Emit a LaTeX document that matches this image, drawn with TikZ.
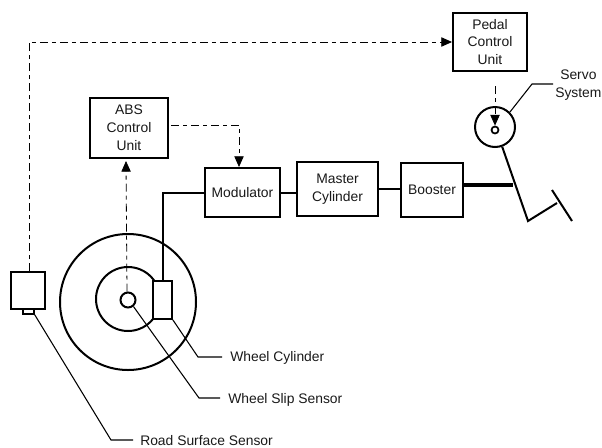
\documentclass[tikz,border=0pt]{standalone}
\usepackage{fontspec}
\setmainfont{Liberation Sans}
\usetikzlibrary{arrows.meta,calc}
\tikzset{
  x=0.75pt,y=-0.75pt,
  unitbox/.style={draw=black,line width=1.5pt,fill=white,inner sep=0pt,align=center,font=\fontsize{10.4}{13.4}\selectfont,text=black!90},
  ring/.style={draw=black,circle,line width=1.5pt,inner sep=0pt},
  pipe/.style={draw=black,line width=1.5pt},
  rod/.style={draw=black,line width=2.8pt},
  leader/.style={draw=black,line width=0.8pt},
  signal/.style={draw=black,line width=0.6pt,dash pattern=on 6pt off 3pt on 3pt off 3pt},
  sighead/.style={-{Triangle[length=8pt,width=7pt]}},
  lbl/.style={inner sep=0pt,anchor=west,align=center,font=\fontsize{10.4}{13.4}\selectfont,text=black!90},
}
\begin{document}
\begin{tikzpicture}
\useasboundingbox (0,0) rectangle (602,447);
% wheel
\node[ring,minimum size=136*0.75pt] (outer) at (128,302) {};
\node[ring,minimum size=64*0.75pt] (inner) at (128,299) {};
\node[ring,minimum size=15*0.75pt] (hub) at (128,300) {};
\node[unitbox,line width=1.2pt,minimum width=19*0.75pt,minimum height=38*0.75pt] (cyl) at (162.5,300) {};
% boxes
\node[unitbox,minimum width=78*0.75pt,minimum height=60*0.75pt] (abs) at (129,128) {ABS\\Control\\Unit};
\node[unitbox,minimum width=75*0.75pt,minimum height=49*0.75pt] (mod) at (242.5,192.5) {Modulator};
\node[unitbox,minimum width=81*0.75pt,minimum height=54*0.75pt] (mas) at (337.5,189) {Master\\Cylinder};
\node[unitbox,minimum width=62*0.75pt,minimum height=54*0.75pt] (boo) at (432,190) {Booster};
\node[unitbox,minimum width=74*0.75pt,minimum height=58*0.75pt] (ped) at (490,42) {Pedal\\Control\\Unit};
\node[ring,minimum size=40*0.75pt] (servo) at (495,127) {};
\node[ring,line width=1.3pt,minimum size=7*0.75pt] (pivot) at (495,130) {};
\node[unitbox,line width=1.3pt,minimum width=34*0.75pt,minimum height=37*0.75pt] (road) at (28,290.5) {};
\node[unitbox,line width=1pt,minimum width=11*0.75pt,minimum height=5*0.75pt] (tip) at (28.5,311.5) {};
% pipes
\draw[pipe] (cyl.north) |- (mod.west);
\draw[pipe] (mod.east) -- (mod.east -| mas.west);
\draw[pipe] (mas.east) -- (mas.east -| boo.west);
% pedal
\coordinate (heel) at (528,221);
\coordinate (toe) at (557,203);
\coordinate (footA) at (552,190);
\coordinate (footB) at (572,221);
\coordinate (rodend) at (512.5,185);
\draw[pipe,line join=miter] (servo.-70) -- (heel) -- (toe);
\draw[pipe] (footA) -- (footB);
\draw[rod] (boo.east |- rodend) -- (rodend);
% signals
\draw[signal,sighead] ($(road.north)+(1,0)$) |- (ped.west);
\draw[signal,sighead] ($(hub.north)+(-1,0)$) -- ($(abs.south)+(-3,2)$);
\draw[signal,sighead] ($(ped.south)+(5,14)$) -- (pivot.north);
\draw[signal,sighead] ($(abs.east)+(2,-3)$) -| ($(mod.north)+(-3.5,0)$);
% labels and leaders
\node[lbl] (tservo) at (555,85) {Servo\\System};
\coordinate (bservo) at (532,84);
\draw[leader] (servo.45) -- (bservo) -- (553,84);
\node[lbl] (tcyl) at (230,358) {Wheel Cylinder};
\coordinate (bcyl) at (198,357);
\draw[leader] (cyl.south east) -- (bcyl) -- ($(tcyl.west)+(-8,-1)$);
\node[lbl] (tslip) at (228,399.5) {Wheel Slip Sensor};
\coordinate (bslip) at (199,398);
\draw[leader] (hub.-50) -- (bslip) -- ($(tslip.west)+(-8,-1.5)$);
\node[lbl] (troad) at (140,441) {Road Surface Sensor};
\coordinate (broad) at (111,440);
\draw[leader] (tip.south east) -- (broad) -- ($(troad.west)+(-7,-1)$);
\end{tikzpicture}
\end{document}
